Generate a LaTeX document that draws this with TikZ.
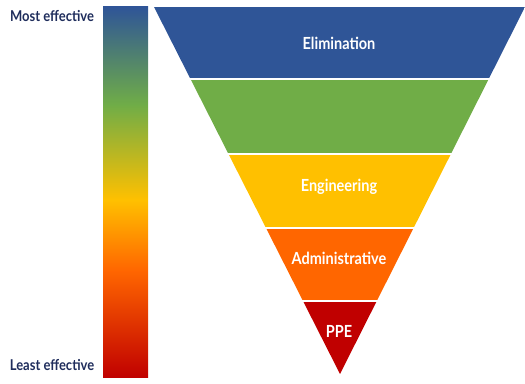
\documentclass[tikz,border=0pt]{standalone}
\usepackage{fontspec}
\setmainfont{Lato}
\newfontfamily\narrowfont{Lato}[FakeStretch=0.87]
\definecolor{elimblue}{HTML}{2F5597}
\definecolor{substgreen}{HTML}{70AD47}
\definecolor{enggold}{HTML}{FFC000}
\definecolor{adminorange}{HTML}{FF6600}
\definecolor{ppered}{HTML}{C00000}
\definecolor{navytext}{HTML}{1F2D5C}
\pgfdeclareverticalshading{effshade}{100bp}{%
  color(0bp)=(ppered); color(25bp)=(ppered); color(39.5bp)=(adminorange);
  color(49bp)=(enggold); color(61.8bp)=(substgreen); color(75bp)=(elimblue);
  color(100bp)=(elimblue)}
\begin{document}
\begin{tikzpicture}[x=0.75pt, y=-0.75pt,
  band/.style={fill=#1, draw=none},
  lbl/.style={text=white, font=\narrowfont\bfseries\fontsize{12.5}{14}\selectfont},
  side/.style={text=navytext, font=\narrowfont\bfseries\fontsize{11.2}{13}\selectfont}
]
  \useasboundingbox (0,0) rectangle (525,384);
  % effectiveness scale
  \shade[shading=effshade] (103,7) rectangle (148,378);
  \node[side] (most) at (52,16) {Most effective};
  \node[side] (least) at (52,365) {Least effective};
  % hierarchy funnel
  \begin{scope}
    \clip (154,7) -- (525,7) -- (340,374) -- cycle;
    \fill[band=elimblue] (150,7) rectangle (530,78);
    \fill[band=substgreen] (150,80) rectangle (530,153);
    \fill[band=enggold] (150,155) rectangle (530,227);
    \fill[band=adminorange] (150,229) rectangle (530,300);
    \fill[band=ppered] (150,302) rectangle (530,378);
  \end{scope}
  \node[lbl] (elim) at (339,43) {Elimination};
  \node[lbl] (eng) at (339,187) {Engineering};
  \node[lbl] (admin) at (339,258) {Administrative};
  \node[lbl] (ppe) at (339,331) {PPE};
\end{tikzpicture}
\end{document}
